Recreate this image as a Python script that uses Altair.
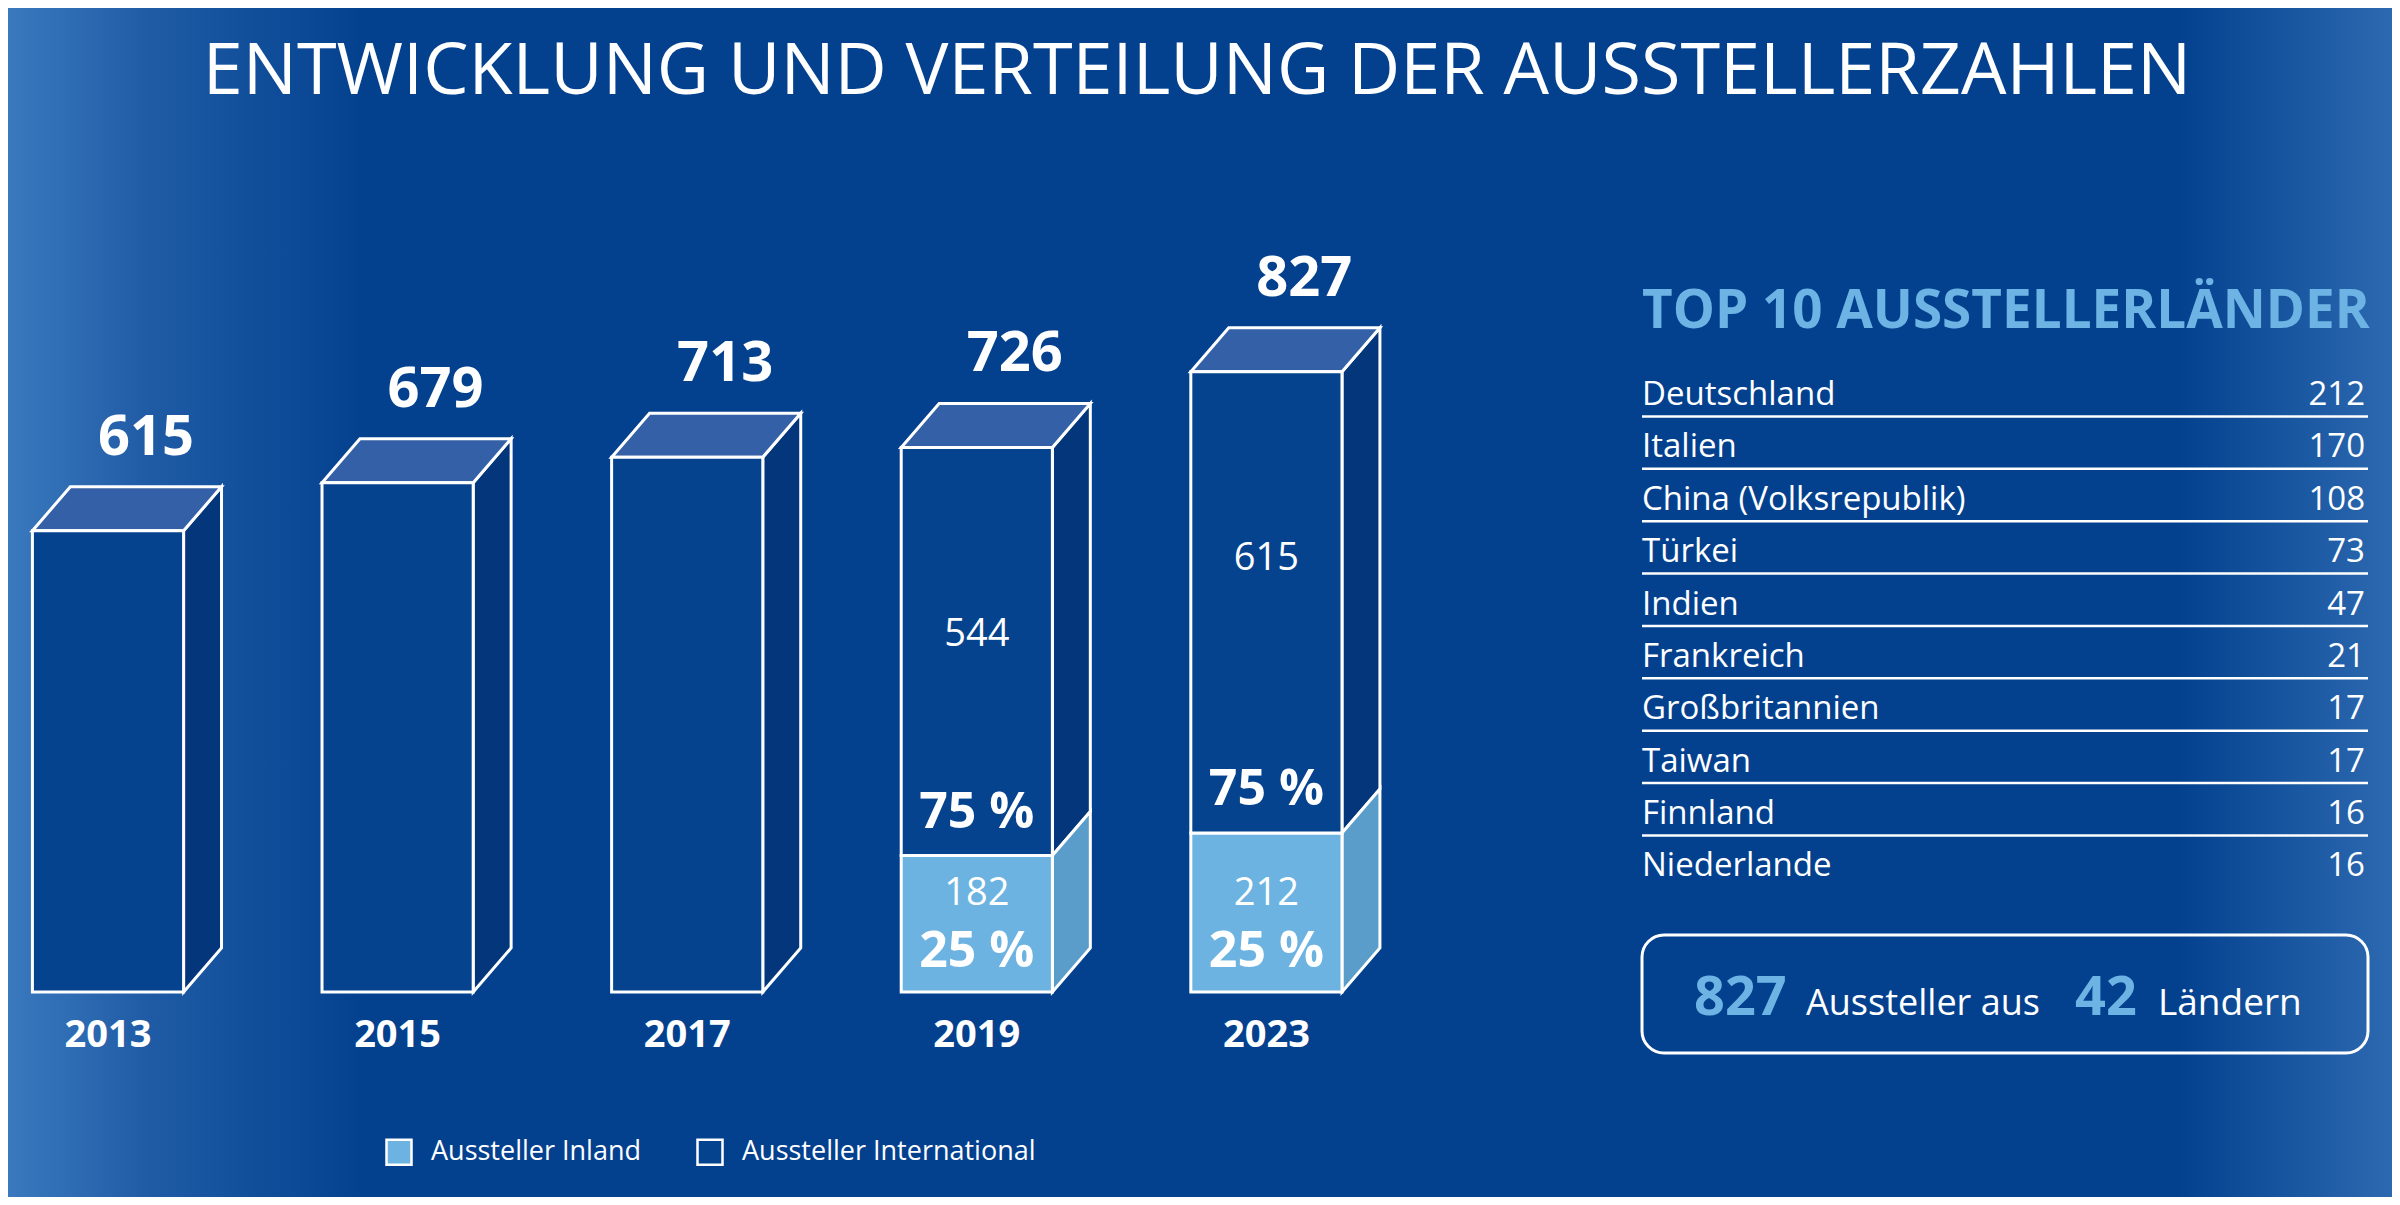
import altair as alt
import pandas as pd

# ---------------- data ----------------
years = ["2013", "2015", "2017", "2019", "2023"]
totals = [615, 679, 713, 726, 827]
inland = [None, None, None, 182, 212]
international = [None, None, None, 544, 615]
share_inland = [None, None, None, "25 %", "25 %"]
share_international = [None, None, None, "75 %", "75 %"]

countries = ["Deutschland", "Italien", "China (Volksrepublik)", "Türkei", "Indien",
             "Frankreich", "Großbritannien", "Taiwan", "Finnland", "Niederlande"]
country_counts = [212, 170, 108, 73, 47, 21, 17, 17, 16, 16]

summary_exhibitors = 827
summary_countries = 42

title_text = "ENTWICKLUNG UND VERTEILUNG DER AUSSTELLERZAHLEN"
table_title = "TOP 10 AUSSTELLERLÄNDER"
SEG_IN = "Aussteller Inland"
SEG_INT = "Aussteller International"
SEG_ALL = "Gesamt"

# ---------------- styles / geometry ----------------
W, H = 2384, 1189
FONT = "Open Sans"
BG = "#03418f"
FRONT = "#05438f"
TOP = "#3360a7"
SIDE = "#03367b"
LIGHT = "#6cb3e1"
LIGHT_SIDE = "#5b9dca"
ACCENT = "#6db3e3"

HW = 0.261      # half bar width in slot units
DX = 0.131      # depth offset in slot units
DY = 58.7       # depth offset in value units

xs = alt.Scale(domain=[0, 4], range=[100, 1258.4])
ys = alt.Scale(domain=[0, 800], range=[984, 384])

# ---------------- derived tables ----------------
front_rows, side_rows, top_rows, label_rows = [], [], [], []
for i, (yr, tot, inl, intl) in enumerate(zip(years, totals, inland, international)):
    if inl is None:
        segs = [(SEG_ALL, 0, tot)]
    else:
        segs = [(SEG_IN, 0, inl), (SEG_INT, inl, inl + intl)]
    for seg, lo, hi in segs:
        front_rows.append(dict(year=yr, seg=seg, x=i - HW, x2=i + HW, lo=lo, hi=hi))
        key = f"{yr}-{seg}"
        side_rows.append(dict(key=key, seg=seg, x=i + HW, lo=lo, hi=hi))
        side_rows.append(dict(key=key, seg=seg, x=i + HW + DX, lo=lo + DY, hi=hi + DY))
    top_rows.append(dict(year=yr, y=tot, x=i - HW, x2=i + HW))
    top_rows.append(dict(year=yr, y=tot + DY, x=i - HW + DX, x2=i + HW + DX))
    label_rows.append(dict(year=yr, i=i, ib=i + DX, total=tot, topb=tot + DY,
                           inland=inl, intl=intl, s_in=share_inland[i],
                           s_int=share_international[i], zero=0))

front_df = pd.DataFrame(front_rows)
side_df = pd.DataFrame(side_rows)
top_df = pd.DataFrame(top_rows)
lab_df = pd.DataFrame(label_rows)
split_df = lab_df.dropna(subset=["inland"])
table_df = pd.DataFrame({"country": countries, "count": country_counts})
one = pd.DataFrame({"a": [0]})

X = lambda f: alt.X(f, type="quantitative", scale=xs, axis=None)
Y = lambda f: alt.Y(f, type="quantitative", scale=ys, axis=None)

# ---------------- background ----------------
bg = alt.Chart(one).mark_rect(
    color=alt.Gradient(
        gradient="linear", x1=0, x2=1, y1=0, y2=0,
        stops=[
            alt.GradientStop(offset=0.0, color="#3a79be"),
            alt.GradientStop(offset=0.06, color="#1f5ba5"),
            alt.GradientStop(offset=0.15, color=BG),
            alt.GradientStop(offset=0.91, color=BG),
            alt.GradientStop(offset=1.0, color="#2c69b0"),
        ],
    )
).encode(x=alt.value(0), x2=alt.value(W), y=alt.value(0), y2=alt.value(H))

# ---------------- 3D bars ----------------
side_dark = alt.Chart(side_df).transform_filter(
    alt.datum.seg != SEG_IN
).mark_area(orient="vertical", color=SIDE, stroke="white", strokeWidth=3).encode(
    x=X("x"), y=Y("lo"), y2="hi", detail="key:N"
)
side_light = alt.Chart(side_df).transform_filter(
    alt.datum.seg == SEG_IN
).mark_area(orient="vertical", color=LIGHT_SIDE, stroke="white", strokeWidth=3).encode(
    x=X("x"), y=Y("lo"), y2="hi", detail="key:N"
)
top = alt.Chart(top_df).mark_area(
    orient="horizontal", color=TOP, stroke="white", strokeWidth=3
).encode(y=Y("y"), x=X("x"), x2="x2", detail="year:N")

front = alt.Chart(front_df).mark_rect(stroke="white", strokeWidth=3).encode(
    x=X("x"), x2="x2", y=Y("lo"), y2="hi",
    color=alt.Color(
        "seg:N",
        scale=alt.Scale(domain=[SEG_IN, SEG_INT, SEG_ALL], range=[LIGHT, FRONT, FRONT]),
        legend=alt.Legend(
            values=[SEG_IN, SEG_INT], orient="none", legendX=377, legendY=1130,
            direction="horizontal", title=None, padding=0,
            symbolType="square", symbolSize=625, symbolStrokeColor="white",
            symbolStrokeWidth=2.5, labelColor="white", labelFontSize=27,
            labelFont=FONT, labelOffset=18, columnPadding=51, labelLimit=0,
        ),
    ),
)

# ---------------- bar labels ----------------
tot_lab = alt.Chart(lab_df).mark_text(
    font=FONT, fontWeight="bold", fontSize=56, color="white", baseline="alphabetic", dy=-32
).encode(x=X("ib"), y=Y("topb"), text="total:Q")

year_lab = alt.Chart(lab_df).mark_text(
    font=FONT, fontWeight="bold", fontSize=38, color="white", baseline="alphabetic", dy=55
).encode(x=X("i"), y=Y("zero"), text="year:N")

intl_lab = alt.Chart(split_df).mark_text(
    font=FONT, fontSize=38, color="white", baseline="middle", dy=187
).encode(x=X("i"), y=Y("total"), text="intl:Q")

s_int_lab = alt.Chart(split_df).mark_text(
    font=FONT, fontWeight="bold", fontSize=50, color="white", baseline="middle", dy=-43
).encode(x=X("i"), y=Y("inland"), text="s_int:N")

in_lab = alt.Chart(split_df).mark_text(
    font=FONT, fontSize=38, color="white", baseline="middle", dy=-98
).encode(x=X("i"), y=Y("zero"), text="inland:Q")

s_in_lab = alt.Chart(split_df).mark_text(
    font=FONT, fontWeight="bold", fontSize=50, color="white", baseline="middle", dy=-40
).encode(x=X("i"), y=Y("zero"), text="s_in:N")

# ---------------- title ----------------
title = alt.Chart(pd.DataFrame({"t": [title_text]})).mark_text(
    font=FONT, fontWeight="normal", fontSize=72, color="white", baseline="middle", align="center"
).encode(x=alt.value(1189), y=alt.value(64), text="t:N")

# ---------------- table ----------------
row_scale = alt.Scale(type="point", domain=countries, range=[387, 858.4], padding=0)
line_scale = alt.Scale(type="point", domain=countries, range=[408.4, 879.8], padding=0)

tbl_title = alt.Chart(pd.DataFrame({"t": [table_title]})).mark_text(
    font=FONT, fontWeight="bold", fontSize=53, color=ACCENT, baseline="middle", align="left"
).encode(x=alt.value(1634), y=alt.value(304), text="t:N")

tbl_names = alt.Chart(table_df).mark_text(
    font=FONT, fontSize=33, color="white", baseline="middle", align="left"
).encode(x=alt.value(1634), y=alt.Y("country:N", scale=row_scale, axis=None), text="country:N")

tbl_vals = alt.Chart(table_df).mark_text(
    font=FONT, fontSize=33, color="white", baseline="middle", align="right"
).encode(x=alt.value(2357), y=alt.Y("country:N", scale=row_scale, axis=None), text="count:Q")

tbl_lines = alt.Chart(table_df).transform_filter(
    alt.datum.country != countries[-1]
).mark_rule(color="white", strokeWidth=2.5).encode(
    x=alt.value(1634), x2=alt.value(2360),
    y=alt.Y("country:N", scale=line_scale, axis=None),
)

# ---------------- summary box ----------------
box = alt.Chart(one).mark_rect(
    fillOpacity=0, stroke="white", strokeWidth=3, cornerRadius=22
).encode(x=alt.value(1634), x2=alt.value(2360), y=alt.value(927), y2=alt.value(1045))

sum_df = pd.DataFrame({"n": [summary_exhibitors], "c": [summary_countries]})
sum_n = alt.Chart(sum_df).mark_text(
    font=FONT, fontWeight="bold", fontSize=54, color=ACCENT, baseline="alphabetic", align="left"
).encode(x=alt.value(1686), y=alt.value(1007), text="n:Q")
sum_t1 = alt.Chart(one).mark_text(
    font=FONT, fontSize=36, color="white", baseline="alphabetic", align="left"
).encode(x=alt.value(1798), y=alt.value(1007), text=alt.value("Aussteller aus"))
sum_c = alt.Chart(sum_df).mark_text(
    font=FONT, fontWeight="bold", fontSize=54, color=ACCENT, baseline="alphabetic", align="left"
).encode(x=alt.value(2067), y=alt.value(1007), text="c:Q")
sum_t2 = alt.Chart(one).mark_text(
    font=FONT, fontSize=37, color="white", baseline="alphabetic", align="left"
).encode(x=alt.value(2150), y=alt.value(1007), text=alt.value("Ländern"))

chart = alt.layer(
    bg, side_dark, side_light, top, front,
    tot_lab, year_lab, intl_lab, s_int_lab, in_lab, s_in_lab,
    title, tbl_title, tbl_names, tbl_vals, tbl_lines,
    box, sum_n, sum_t1, sum_c, sum_t2,
).resolve_scale(x="independent", y="independent").properties(
    width=W, height=H, padding=0, autosize=alt.AutoSizeParams(type="none"),
    background=BG,
).configure_view(stroke=None)

chart.save("out.html", embed_options={"renderer": "svg", "actions": False})
